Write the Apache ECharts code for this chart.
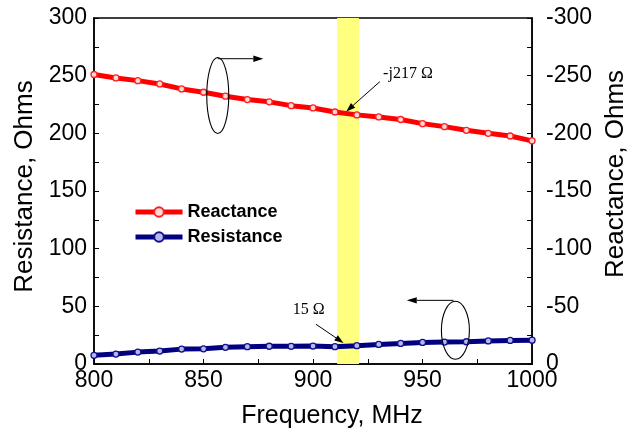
<!DOCTYPE html>
<html>
<head>
<meta charset="utf-8">
<script src="https://cdn.jsdelivr.net/npm/echarts@6/dist/echarts.min.js"></script>
<style>
  html, body { margin: 0; padding: 0; background: #fff; }
  #chart { width: 637px; height: 434px; }
</style>
</head>
<body>
<div id="chart"></div>
<script>
// Frequency sweep, MHz
const frequency = [800, 810, 820, 830, 840, 850, 860, 870, 880, 890, 900,
                   910, 920, 930, 940, 950, 960, 970, 980, 990, 1000];
// Reactance, Ohms (capacitive, negative)
const reactance = [-251, -248, -245.7, -242.8, -238.5, -235.6, -232.2, -229.3, -227.3, -224, -222,
                   -218.5, -216, -214.2, -212, -208.4, -205.8, -202.6, -200, -197.7, -193.5];
// Resistance, Ohms
const resistance = [7.5, 8.6, 10.3, 11.2, 12.9, 13.2, 14.5, 15.0, 15.4, 15.3, 15.5,
                    15.0, 15.9, 17.0, 17.8, 18.7, 19.0, 19.3, 20.0, 20.4, 20.7];
// Operating band, MHz
const band = [911, 921];
const seriesNames = ['Reactance', 'Resistance'];

const FONT = '"Liberation Sans", Arial, sans-serif';
const SERIF = '"Liberation Serif", "Times New Roman", serif';

const pair = (xs, ys) => xs.map((x, i) => [x, ys[i]]);

const chart = echarts.init(document.getElementById('chart'), null, { renderer: 'canvas' });

const option = {
  animation: false,
  backgroundColor: '#fff',
  grid: { left: 94, right: 97, top: 18, bottom: 68, show: true, borderColor: '#000', borderWidth: 1.5 },
  legend: {
    orient: 'vertical',
    left: 133, top: 203,
    itemWidth: 47, itemHeight: 12, itemGap: 7,
    padding: 0,
    lineStyle: { width: 5 },
    textStyle: { fontFamily: FONT, fontWeight: 'bold', fontSize: 18, color: '#000' },
    data: seriesNames
  },
  xAxis: {
    type: 'value', min: 800, max: 1000, interval: 25,
    name: 'Frequency, MHz', nameLocation: 'middle', nameGap: 40,
    nameTextStyle: { fontFamily: FONT, fontSize: 25, color: '#000', padding: [0, 0, 0, 38] },
    axisLine: { show: true, lineStyle: { color: '#000', width: 1.5 } },
    axisTick: { inside: true, length: 5, lineStyle: { color: '#000', width: 1 } },
    axisLabel: {
      fontFamily: FONT, fontSize: 23, color: '#000', margin: 5,
      formatter: v => (v % 50 === 0 ? String(v) : '')
    },
    splitLine: { show: false }
  },
  yAxis: [
    {
      type: 'value', min: 0, max: 300, interval: 25,
      name: 'Resistance, Ohms', nameLocation: 'middle', nameGap: 56,
      nameTextStyle: { fontFamily: FONT, fontSize: 26, color: '#000', padding: [0, 0, 0, 9] },
      axisLine: { show: true, lineStyle: { color: '#000', width: 1.5 } },
      axisTick: { inside: true, length: 5, lineStyle: { color: '#000', width: 1 } },
      axisLabel: {
        fontFamily: FONT, fontSize: 23, color: '#000', margin: 7,
        formatter: v => (v % 50 === 0 ? String(v) : '')
      },
      splitLine: { show: false }
    },
    {
      type: 'value', min: -300, max: 0, interval: 25, inverse: true, position: 'right',
      name: 'Reactance, Ohms', nameLocation: 'middle', nameGap: 57,
      nameTextStyle: { fontFamily: FONT, fontSize: 26, color: '#000', padding: [0, 0, 0, 34] },
      axisLine: { show: true, lineStyle: { color: '#000', width: 1.5 } },
      axisTick: { inside: true, length: 5, lineStyle: { color: '#000', width: 1 } },
      axisLabel: {
        fontFamily: FONT, fontSize: 23, color: '#000', margin: 14,
        formatter: v => (v % 50 === 0 ? String(v) : '')
      },
      splitLine: { show: false }
    }
  ],
  series: [
    {
      name: seriesNames[0], type: 'line', yAxisIndex: 1,
      data: pair(frequency, reactance),
      symbol: 'circle', symbolSize: 6, showAllSymbol: true,
      lineStyle: { color: '#ff0000', width: 5 },
      itemStyle: { color: '#ffd8d8', borderColor: '#ff2020', borderWidth: 1.3 },
      markArea: {
        silent: true,
        itemStyle: { color: '#ffff80', opacity: 1 },
        data: [[{ xAxis: band[0] }, { xAxis: band[1] }]]
      },
      z: 3
    },
    {
      name: seriesNames[1], type: 'line', yAxisIndex: 0,
      data: pair(frequency, resistance),
      symbol: 'circle', symbolSize: 6, showAllSymbol: true,
      lineStyle: { color: '#000080', width: 5 },
      itemStyle: { color: '#b8b8e8', borderColor: '#101090', borderWidth: 1.3 },
      z: 4
    }
  ]
};

chart.setOption(option);

// Annotation overlay: ellipses marking each curve, pointer arrows and value callouts.
function px(f, v) {
  return chart.convertToPixel({ xAxisIndex: 0, yAxisIndex: 0 }, [f, v]);
}
function arrow(from, to, head) {
  const [x1, y1] = px(from[0], from[1]);
  const [x2, y2] = px(to[0], to[1]);
  const ang = Math.atan2(y2 - y1, x2 - x1);
  const L = head || 9, W = 3.2;
  const bx = x2 - L * Math.cos(ang), by = y2 - L * Math.sin(ang);
  const nx = -Math.sin(ang) * W, ny = Math.cos(ang) * W;
  return [
    { type: 'line', shape: { x1, y1, x2: bx, y2: by }, style: { stroke: '#000', lineWidth: 1 }, z: 20 },
    { type: 'polygon', shape: { points: [[x2, y2], [bx + nx, by + ny], [bx - nx, by - ny]] },
      style: { fill: '#000' }, z: 20 }
  ];
}
function ellipse(center, rx, ry) {
  const [cx, cy] = px(center[0], center[1]);
  return { type: 'ellipse', shape: { cx, cy, rx, ry }, style: { fill: null, stroke: '#000', lineWidth: 1.1 }, z: 20 };
}
function label(pos, text, align) {
  const [x, y] = px(pos[0], pos[1]);
  return { type: 'text', x, y, z: 20,
    style: { text, fontFamily: SERIF, fontSize: 16, fill: '#000', align: align, verticalAlign: 'middle' } };
}

const graphics = [
  ellipse([856.5, 232.8], 11, 38),
  ...arrow([856.5, 264.7], [877.3, 264.7], 10),
  ellipse([965, 29.3], 14, 29),
  ...arrow([964.1, 55.2], [942.8, 55.2], 10),
  ...arrow([930.5, 244.8], [915.2, 219]),
  label([932, 251.5], '-j217 \u03A9', 'left'),
  ...arrow([901.3, 34.5], [913.9, 18.3]),
  label([898, 46.6], '15 \u03A9', 'center')
];
chart.setOption({ graphic: { elements: graphics } });
</script>
</body>
</html>
